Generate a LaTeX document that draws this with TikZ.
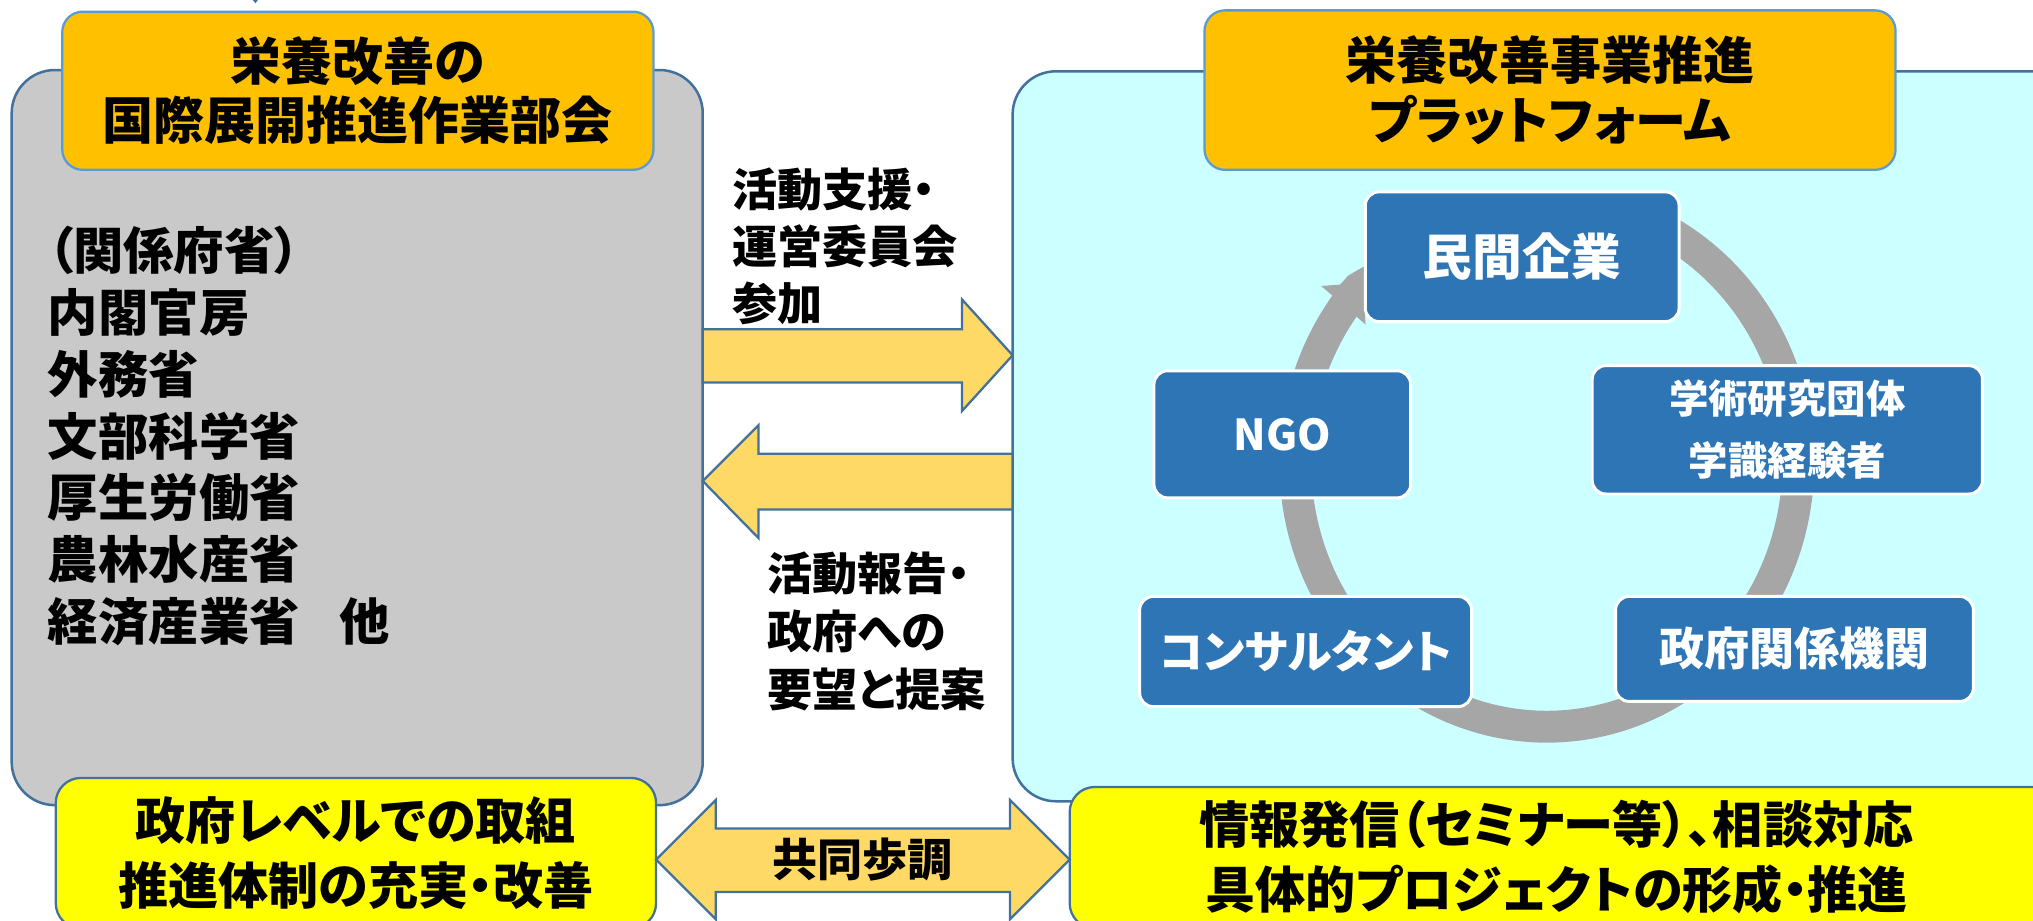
\documentclass[tikz,border=0pt]{standalone}
\usepackage{fontspec}
\setmainfont{Noto Sans CJK JP}[RawFeature=+palt]
\usetikzlibrary{arrows.meta}
\definecolor{hdrc}{HTML}{FFC000}
\definecolor{greyf}{HTML}{C9C9C9}
\definecolor{cyanf}{HTML}{CCFFFF}
\definecolor{yelc}{HTML}{FFFF00}
\definecolor{arrf}{HTML}{FFD966}
\definecolor{bord}{HTML}{41719C}
\definecolor{bordl}{HTML}{5B9BD5}
\definecolor{bluc}{HTML}{2E75B6}
\definecolor{ringc}{HTML}{A6A6A6}
\newcommand{\myfs}[2]{\bfseries\fontsize{#1}{#2}\selectfont}
\begin{document}
\begin{tikzpicture}[x=0.02cm,y=-0.02cm,
  box/.style={inner sep=0pt, outer sep=0pt},
  sz/.style 2 args={minimum width=#1*0.02cm, minimum height=#2*0.02cm},
  bigbox/.style={box, draw=bord, line width=1.1pt, rounded corners=19pt},
  hdrbox/.style={box, draw=bordl, line width=1pt, fill=hdrc, rounded corners=9pt, align=center, font=\myfs{22.4pt}{26.1pt}},
  yelbox/.style={box, draw=bord, line width=1pt, fill=yelc, rounded corners=11pt},
  bluebox/.style={box, draw=white, line width=1.3pt, fill=bluc, rounded corners=6pt, text=white, align=center},
  blockarr/.style={draw=bord, line width=1pt, fill=arrf, line join=miter},
  ringline/.style={draw=ringc, line width=14pt, -{Triangle[width=25pt,length=13pt]}},
  lbl/.style={box, align=left, anchor=west}
]
\useasboundingbox (0,0) rectangle (1568,709.6);
% tiny mark at top
\fill[bord] (193.5,-2) -- (200.5,-2) -- (197,2.5) -- cycle;
% big boxes
\node[bigbox, fill=greyf, sz={533}{567}] (grey) at (275.5,337.5) {};
\node[bigbox, fill=cyanf, sz={839}{563}] (cyan) at (1200.5,336.5) {};
% ring
\draw[ringline] plot[domain=-75:223, samples=150, smooth] ({1193+194*cos(\x)}, {357+203.5*sin(\x)});
% blue boxes
\node[bluebox, sz={242}{100}, font=\myfs{21.8pt}{26pt}] (b1) at (1174,198) {民間企業};
\node[bluebox, sz={198}{98}, font=\myfs{18.7pt}{22pt}] (b2) at (989,335) {NGO};
\node[bluebox, sz={301}{99}, font=\myfs{17.3pt}{27.2pt}] (b3) at (1378.5,331.5) {学術研究団体\\学識経験者};
\node[bluebox, sz={256}{85}, font=\myfs{19.8pt}{24pt}] (b4) at (1007,502.5) {コンサルタント};
\node[bluebox, sz={276}{81}, font=\myfs{19.8pt}{24pt}] (b5) at (1384,500.5) {政府関係機関};
% headers
\node[hdrbox, sz={456}{122}] (hL) at (276,70) {栄養改善の\\国際展開推進作業部会};
\node[hdrbox, sz={533}{123}] (hR) at (1195.5,69.5) {栄養改善事業推進\\プラットフォーム};
% yellow boxes
\node[yelbox, sz={463}{116}, align=center, font=\myfs{22pt}{28.7pt}] (yL) at (274.5,658) {政府レベルでの取組\\推進体制の充実・改善};
\node[yelbox, sz={795}{109}] (yR) at (1222.5,661.5) {};
\node[box, align=center, font=\myfs{22pt}{28.3pt}] (yRt) at (1200.5,661) {情報発信（セミナー等）、相談対応\\具体的プロジェクトの形成・推進};
% grey list
\node[lbl, font=\myfs{22.1pt}{27.15pt}] (list) at (37,336.3) {（関係府省）\\内閣官房\\外務省\\文部科学省\\厚生労働省\\農林水産省\\経済産業省\hspace*{0.62cm}他};
% block arrows
\draw[blockarr] (grey.east |- 0,254) -- (742,254) -- (742,231) -- (cyan.west |- 0,274) -- (742,317) -- (742,295) -- (grey.east |- 0,295) -- cycle;
\draw[blockarr] (grey.east |- 0,371) -- (585,328) -- (585,350) -- (cyan.west |- 0,350) -- (cyan.west |- 0,393) -- (585,393) -- (585,415) -- cycle;
\draw[blockarr] (yL.east |- 0,663) -- (552,617) -- (552,639) -- (779,639) -- (779,617) -- (yR.west |- 0,663) -- (779,709) -- (779,688) -- (552,688) -- (552,709) -- cycle;
% middle labels
\node[lbl, font=\myfs{19.8pt}{24.9pt}] (m1) at (565,190) {活動支援・\\運営委員会\\参加};
\node[lbl, font=\myfs{19.8pt}{25.5pt}] (m2) at (592,487) {活動報告・\\政府への\\要望と提案};
\node[box, font=\myfs{19.8pt}{24pt}] (m3) at (665,663) {共同歩調};
\end{tikzpicture}
\end{document}
